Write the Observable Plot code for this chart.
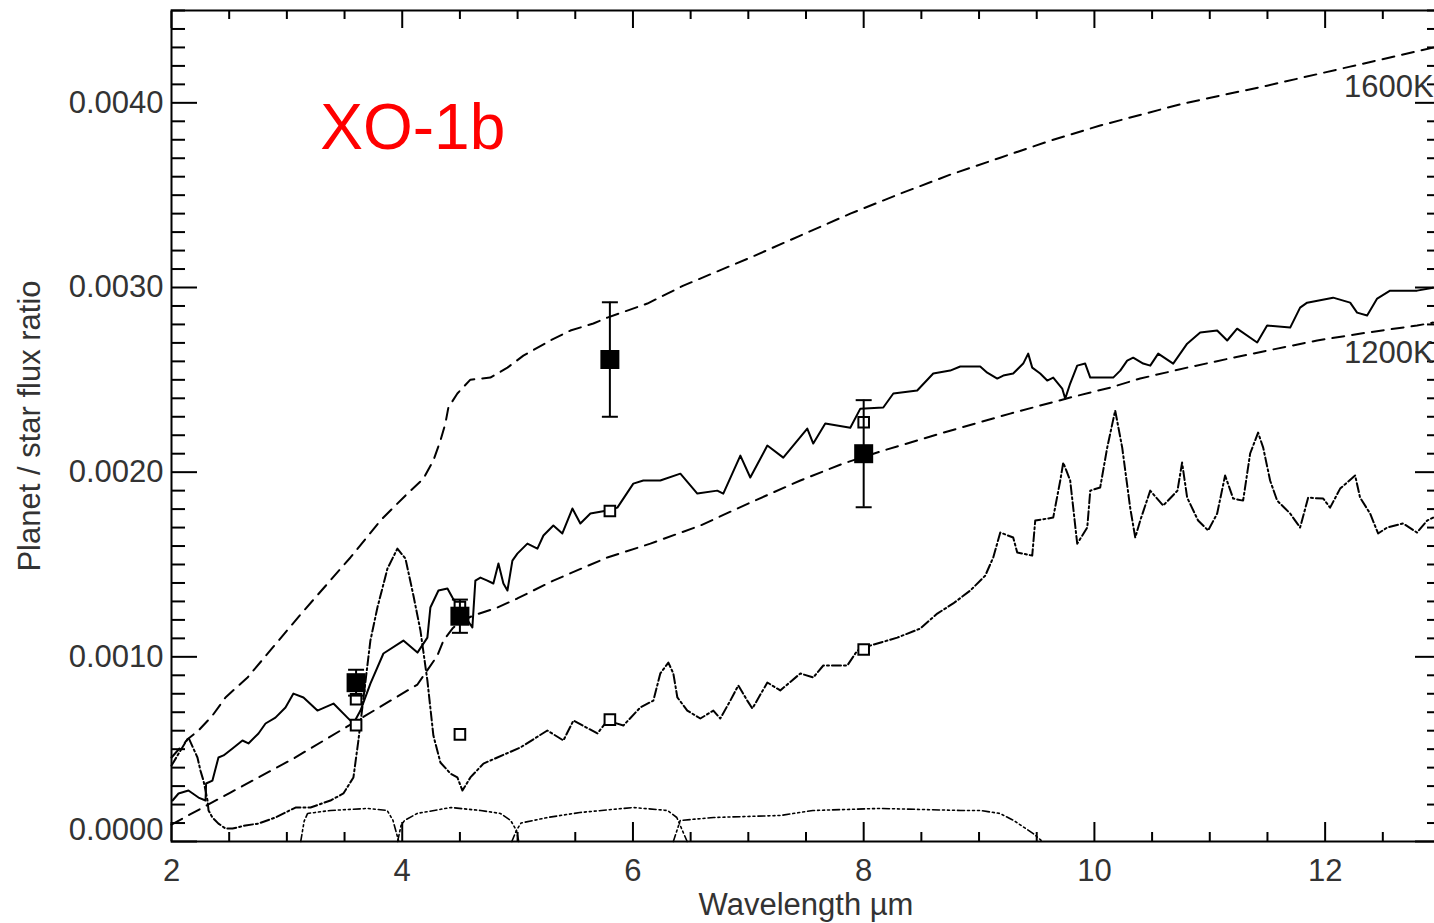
<!DOCTYPE html>
<html>
<head>
<meta charset="utf-8">
<script src="https://cdn.jsdelivr.net/npm/d3@7"></script>
<script src="https://cdn.jsdelivr.net/npm/@observablehq/plot@0.6"></script>
<style>
  html, body { margin: 0; padding: 0; background: #fff; overflow: hidden; }
  #chart svg { max-width: none !important; display: block; }
</style>
</head>
<body>
<div id="chart"></div>
<script>
// ---------------- DATA (flux ratios of the curves are in units of 1e-3) ----------------
// 1600 K blackbody (dashed)
const bb1600 = [[2.000,0.455],[2.147,0.558],[2.234,0.601],[2.355,0.682],[2.468,0.780],[2.659,0.888],[3.118,1.229],[3.551,1.538],[3.811,1.738],[4.045,1.884],[4.184,1.965],[4.270,2.063],[4.331,2.171],[4.374,2.263],[4.400,2.350],[4.478,2.426],[4.591,2.501],[4.764,2.512],[4.912,2.566],[5.050,2.631],[5.284,2.713],[5.458,2.767],[5.657,2.805],[5.778,2.837],[5.951,2.875],[6.125,2.913],[6.298,2.967],[6.437,3.010],[7.017,3.162],[7.451,3.281],[7.884,3.400],[8.317,3.508],[8.750,3.611],[9.184,3.703],[9.617,3.795],[10.050,3.877],[10.769,3.996],[11.497,4.093],[12.217,4.196],[12.936,4.299]];
// 1200 K blackbody (dashed)
const bb1200 = [[2.000,0.092],[2.511,0.265],[3.057,0.449],[3.551,0.633],[4.132,0.850],[4.305,1.007],[4.357,1.088],[4.435,1.153],[4.504,1.191],[4.617,1.224],[4.825,1.267],[4.998,1.316],[5.310,1.413],[5.778,1.538],[6.151,1.613],[6.584,1.711],[7.017,1.835],[7.451,1.955],[7.823,2.047],[8.170,2.117],[8.664,2.209],[9.270,2.317],[9.790,2.404],[10.137,2.458],[10.397,2.507],[10.804,2.566],[11.203,2.620],[11.584,2.669],[11.931,2.713],[12.364,2.756],[12.797,2.794],[12.936,2.810]];
// model spectrum (solid)
const modelSolid = [[2.009,0.222],[2.061,0.260],[2.147,0.276],[2.234,0.238],[2.295,0.222],[2.300,0.314],[2.355,0.330],[2.407,0.455],[2.451,0.466],[2.529,0.504],[2.615,0.547],[2.667,0.531],[2.754,0.585],[2.815,0.639],[2.901,0.671],[2.988,0.726],[3.057,0.801],[3.144,0.780],[3.265,0.709],[3.404,0.747],[3.525,0.671],[3.577,0.639],[3.638,0.709],[3.724,0.855],[3.837,1.018],[4.010,1.088],[4.132,1.023],[4.218,1.104],[4.244,1.267],[4.314,1.359],[4.392,1.370],[4.435,1.321],[4.608,1.159],[4.634,1.413],[4.678,1.429],[4.738,1.413],[4.790,1.397],[4.834,1.505],[4.877,1.397],[4.912,1.359],[4.955,1.521],[4.998,1.559],[5.085,1.613],[5.172,1.586],[5.224,1.657],[5.310,1.711],[5.388,1.668],[5.475,1.803],[5.544,1.722],[5.631,1.776],[5.778,1.792],[5.865,1.808],[6.003,1.938],[6.090,1.955],[6.237,1.955],[6.411,1.992],[6.558,1.884],[6.731,1.900],[6.783,1.884],[6.931,2.090],[7.017,1.971],[7.165,2.144],[7.303,2.079],[7.511,2.236],[7.563,2.155],[7.667,2.263],[7.884,2.241],[7.971,2.344],[8.170,2.350],[8.257,2.426],[8.464,2.442],[8.603,2.534],[8.750,2.550],[8.837,2.572],[9.010,2.572],[9.071,2.539],[9.158,2.507],[9.210,2.523],[9.296,2.534],[9.383,2.588],[9.426,2.642],[9.461,2.566],[9.530,2.534],[9.591,2.496],[9.643,2.512],[9.721,2.453],[9.747,2.398],[9.790,2.480],[9.851,2.577],[9.920,2.588],[9.964,2.512],[10.163,2.512],[10.224,2.550],[10.284,2.604],[10.336,2.620],[10.423,2.588],[10.484,2.577],[10.553,2.642],[10.683,2.588],[10.804,2.696],[10.917,2.756],[11.064,2.767],[11.151,2.713],[11.237,2.777],[11.411,2.702],[11.497,2.794],[11.697,2.783],[11.783,2.891],[11.844,2.918],[12.069,2.945],[12.217,2.918],[12.277,2.864],[12.364,2.848],[12.451,2.940],[12.563,2.983],[12.797,2.983],[12.936,2.999]];
// model spectrum (dash-dot)
const modelDashDot = [[2.000,0.411],[2.078,0.493],[2.147,0.563],[2.225,0.455],[2.251,0.384],[2.277,0.330],[2.295,0.276],[2.312,0.222],[2.321,0.168],[2.355,0.130],[2.407,0.097],[2.468,0.070],[2.529,0.070],[2.641,0.087],[2.754,0.097],[2.901,0.130],[3.075,0.184],[3.205,0.184],[3.378,0.222],[3.490,0.260],[3.577,0.347],[3.620,0.547],[3.672,0.818],[3.724,1.088],[3.785,1.267],[3.872,1.478],[3.958,1.586],[4.028,1.532],[4.097,1.332],[4.158,1.142],[4.218,0.872],[4.270,0.574],[4.331,0.428],[4.418,0.368],[4.478,0.347],[4.522,0.276],[4.591,0.347],[4.704,0.422],[4.825,0.455],[5.024,0.509],[5.258,0.601],[5.397,0.547],[5.484,0.655],[5.692,0.585],[5.778,0.655],[5.917,0.628],[6.064,0.726],[6.177,0.763],[6.237,0.910],[6.307,0.969],[6.350,0.910],[6.385,0.780],[6.471,0.709],[6.584,0.666],[6.697,0.709],[6.757,0.666],[6.844,0.763],[6.913,0.845],[6.991,0.763],[7.035,0.720],[7.165,0.861],[7.277,0.818],[7.451,0.910],[7.563,0.888],[7.650,0.953],[7.858,0.953],[7.945,1.034],[8.057,1.061],[8.291,1.104],[8.490,1.153],[8.638,1.234],[8.776,1.289],[8.924,1.359],[9.054,1.440],[9.123,1.538],[9.184,1.673],[9.296,1.646],[9.331,1.565],[9.461,1.548],[9.487,1.738],[9.643,1.754],[9.704,1.955],[9.730,2.052],[9.790,1.955],[9.851,1.613],[9.938,1.700],[9.964,1.900],[10.050,1.917],[10.111,2.133],[10.180,2.334],[10.241,2.133],[10.310,1.808],[10.354,1.646],[10.397,1.738],[10.484,1.900],[10.596,1.819],[10.720,1.900],[10.760,2.052],[10.804,1.862],[10.899,1.738],[10.986,1.684],[11.064,1.776],[11.133,1.982],[11.203,1.857],[11.289,1.846],[11.350,2.101],[11.419,2.214],[11.463,2.133],[11.523,1.955],[11.584,1.846],[11.697,1.776],[11.783,1.700],[11.853,1.862],[11.983,1.857],[12.043,1.808],[12.130,1.911],[12.260,1.982],[12.303,1.862],[12.390,1.776],[12.459,1.668],[12.537,1.700],[12.676,1.722],[12.797,1.673],[12.884,1.738],[12.936,1.754]];
// IRAC band response curves (dash-dot-dot-dot, arbitrary scale)
const band36 = [[3.12,0],[3.15,0.110],[3.18,0.152],[3.38,0.168],[3.70,0.179],[3.87,0.168],[3.92,0.114],[3.97,0]];
const band45 = [[3.96,0],[3.99,0.087],[4.02,0.114],[4.13,0.152],[4.42,0.184],[4.68,0.168],[4.85,0.152],[4.94,0.114],[4.99,0.060],[5.01,0]];
const band58 = [[4.95,0],[4.99,0.060],[5.03,0.100],[5.26,0.130],[5.54,0.157],[6.00,0.184],[6.30,0.168],[6.38,0.130],[6.44,0.043],[6.47,0]];
const band80 = [[6.35,0],[6.41,0.114],[6.70,0.130],[7.28,0.141],[7.56,0.168],[8.14,0.179],[8.84,0.168],[9.01,0.168],[9.18,0.152],[9.30,0.114],[9.47,0.043],[9.55,0]];

// observed eclipse depths (filled squares with error bars)
const obsWave  = [3.6, 4.5, 5.8, 8.0];
const obsRatio = [0.00086, 0.00122, 0.00261, 0.00210];
const obsErr   = [0.00007, 0.00009, 0.00031, 0.00029];
// band-integrated model values (open squares)
const solidBandRatio   = [0.00077, 0.00127, 0.00179, 0.00227];
const dashDotBandRatio = [0.00063, 0.00058, 0.00066, 0.00104];

// ticks and labels
const xTickValues = [2, 4, 6, 8, 10, 12];
const xTickLabels = ["2", "4", "6", "8", "10", "12"];
const yTickValues = [0, 0.001, 0.002, 0.003, 0.004];
const yTickLabels = ["0.0000", "0.0010", "0.0020", "0.0030", "0.0040"];
const xTitle = "Wavelength \u00b5m";
const yTitle = "Planet / star flux ratio";
const curveLabelText = ["1600K", "1200K"];
const curveLabelX = [12.94, 12.94];
const curveLabelY = [0.004085, 0.002645];
const planetName = "XO-1b";
const planetNameX = 3.29;
const planetNameY = 0.003863;

// ---------------- BUILD ----------------
const FONT = "'Liberation Sans', Arial, Helvetica, sans-serif";
const rows = pairs => pairs.map(([x, y]) => ({x, y: y * 1e-3}));
const obs = obsWave.map((x, i) => ({x, y: obsRatio[i], e: obsErr[i]}));
const solidPts = obsWave.map((x, i) => ({x, y: solidBandRatio[i]}));
const ddPts = obsWave.map((x, i) => ({x, y: dashDotBandRatio[i]}));
const xMinor = d3.range(2, 13.001, 0.5).filter(v => !xTickValues.includes(v));
const yMinor = d3.range(0, 46).map(i => i / 10000).filter(v => !yTickValues.some(t => Math.abs(t - v) < 1e-9));
const xLabelRows = xTickValues.map((v, i) => ({v, t: xTickLabels[i]}));
const yLabelRows = yTickValues.map((v, i) => ({v, t: yTickLabels[i]}));
const curveLabels = curveLabelText.map((t, i) => ({t, x: curveLabelX[i], y: curveLabelY[i]}));

const squareSym = {draw(ctx, size) { const s = Math.sqrt(size / Math.PI); ctx.moveTo(-s, -s); ctx.lineTo(s, -s); ctx.lineTo(s, s); ctx.lineTo(-s, s); ctx.closePath(); }};
const capSym = {draw(ctx, size) { const s = Math.sqrt(size / Math.PI); ctx.moveTo(-s, 0); ctx.lineTo(s, 0); }};

const tickOpts = {tickFormat: () => "", label: null, stroke: "black", strokeWidth: 2};
const lineOpts = {x: "x", y: "y", stroke: "black", strokeWidth: 2};

const chart = Plot.plot({
  width: 1445, height: 923,
  marginLeft: 171, marginRight: 5, marginTop: 10, marginBottom: 82,
  style: {fontFamily: FONT, background: "white", maxWidth: "none"},
  x: {domain: [2, 13]},
  y: {domain: [0, 0.0045]},
  marks: [
    ...[band36, band45, band58, band80].map(b =>
      Plot.line(rows(b), {...lineOpts, strokeWidth: 1.6, strokeDasharray: "7,3,2,3,2,3,2,3"})),
    Plot.line(rows(bb1600), {...lineOpts, strokeDasharray: "12,8"}),
    Plot.line(rows(bb1200), {...lineOpts, strokeDasharray: "12,8"}),
    Plot.line(rows(modelDashDot), {...lineOpts, strokeDasharray: "9,3,2,3"}),
    Plot.line(rows(modelSolid), {...lineOpts}),
    Plot.dot(solidPts, {x: "x", y: "y", symbol: squareSym, r: 5.3, stroke: "black", strokeWidth: 2, fill: "white"}),
    Plot.dot(ddPts, {x: "x", y: "y", symbol: squareSym, r: 5.3, stroke: "black", strokeWidth: 2, fill: "white"}),
    Plot.ruleX(obs, {x: "x", y1: d => d.y - d.e, y2: d => d.y + d.e, stroke: "black", strokeWidth: 2}),
    Plot.dot(obs, {x: "x", y: d => d.y + d.e, symbol: capSym, r: 8, stroke: "black", strokeWidth: 2, fill: "none"}),
    Plot.dot(obs, {x: "x", y: d => d.y - d.e, symbol: capSym, r: 8, stroke: "black", strokeWidth: 2, fill: "none"}),
    Plot.dot(obs, {x: "x", y: "y", symbol: squareSym, r: 9.5, fill: "black", stroke: "none"}),
    // ticks (inward, all four sides)
    Plot.axisX({anchor: "bottom", ticks: xTickValues, tickSize: 19, dy: -19, ...tickOpts}),
    Plot.axisX({anchor: "bottom", ticks: xMinor, tickSize: 9, dy: -9, ...tickOpts}),
    Plot.axisX({anchor: "top", ticks: xTickValues, tickSize: 17, dy: 17, ...tickOpts}),
    Plot.axisX({anchor: "top", ticks: xMinor, tickSize: 8, dy: 8, ...tickOpts}),
    Plot.axisY({anchor: "left", ticks: yTickValues, tickSize: 26, dx: 26, ...tickOpts}),
    Plot.axisY({anchor: "left", ticks: yMinor, tickSize: 14, dx: 14, ...tickOpts}),
    Plot.axisY({anchor: "right", ticks: yTickValues, tickSize: 26, dx: -26, ...tickOpts}),
    Plot.axisY({anchor: "right", ticks: yMinor, tickSize: 14, dx: -14, ...tickOpts}),
    Plot.frame({stroke: "black", strokeWidth: 2}),
    // tick labels
    Plot.text(xLabelRows, {x: "v", text: "t", frameAnchor: "bottom", lineAnchor: "top", dy: 17, fontSize: 31, fill: "#333"}),
    Plot.text(yLabelRows.filter(d => d.v > 0), {y: "v", text: "t", frameAnchor: "left", textAnchor: "end", dx: -8, fontSize: 31, fill: "#333"}),
    Plot.text(yLabelRows.filter(d => d.v === 0), {y: "v", text: "t", frameAnchor: "left", textAnchor: "end", dx: -8, dy: -11, fontSize: 31, fill: "#333"}),
    // axis titles
    Plot.text([xTitle], {text: d => d, frameAnchor: "bottom", textAnchor: "middle", lineAnchor: "top", dy: 51, fontSize: 31, fill: "#333"}),
    Plot.text([yTitle], {text: d => d, frameAnchor: "left", textAnchor: "middle", lineAnchor: "middle", rotate: -90, dx: -141, fontSize: 31, fill: "#333"}),
    // curve labels
    Plot.text(curveLabels, {x: "x", y: "y", text: "t", textAnchor: "end", fontSize: 31, fill: "#333"}),
    Plot.text([planetName], {x: () => planetNameX, y: () => planetNameY, text: d => d, textAnchor: "start", fontSize: 64, fill: "#ff0000"})
  ]
});
document.getElementById("chart").appendChild(chart);
</script>
</body>
</html>
